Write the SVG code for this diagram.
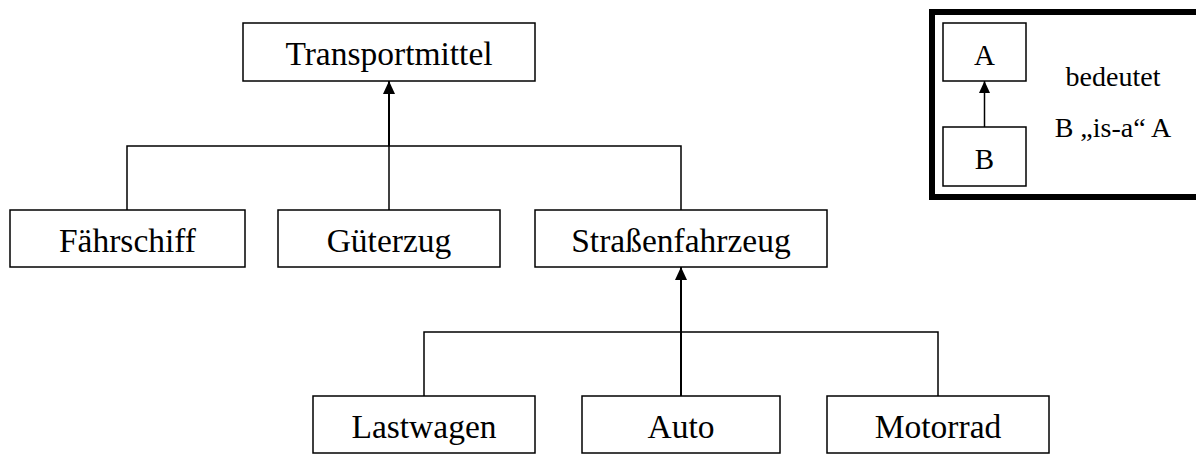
<svg xmlns="http://www.w3.org/2000/svg" width="1196" height="454" viewBox="0 0 1196 454">
<style>
.box{fill:#fff;stroke:#000;stroke-width:1.5}
.t{font-family:"Liberation Serif","Times New Roman",serif;font-size:33.5px;text-anchor:middle;fill:#000}
.lt{font-family:"Liberation Serif","Times New Roman",serif;font-size:28px;text-anchor:middle;fill:#000}
.ll{font-family:"Liberation Serif","Times New Roman",serif;font-size:29px;text-anchor:middle;fill:#000}
.c{fill:none;stroke:#000;stroke-width:1.5}
.a{fill:none;stroke:#000;stroke-width:2}
</style>
<defs>
<marker id="arr" markerUnits="userSpaceOnUse" markerWidth="14" markerHeight="14" refX="13" refY="6" orient="auto">
<path d="M0,0 L13,6 L0,12 Z" fill="#000"/>
</marker>
<marker id="arrs" markerUnits="userSpaceOnUse" markerWidth="13" markerHeight="12" refX="12" refY="5.5" orient="auto">
<path d="M0,0 L12,5.5 L0,11 Z" fill="#000"/>
</marker>
</defs>
<rect x="0" y="0" width="1196" height="454" fill="#fff"/>
<g id="connectors">
<path class="c" d="M127,210 V146 H681 V210"/>
<path class="c" d="M389,210 V146"/>
<path class="a" d="M389,146 V81" marker-end="url(#arr)"/>
<path class="c" d="M424,396 V332 H938 V396"/>
<path class="a" d="M681,396 V267" marker-end="url(#arr)"/>
</g>
<g id="transportmittel"><rect class="box" x="243" y="23" width="292" height="58"/><text class="t" x="389" y="65">Transportmittel</text></g>
<g id="faehrschiff"><rect class="box" x="10" y="210" width="235" height="57"/><text class="t" x="127.5" y="252">Fährschiff</text></g>
<g id="gueterzug"><rect class="box" x="278" y="210" width="222" height="57"/><text class="t" x="389" y="252">Güterzug</text></g>
<g id="strassenfahrzeug"><rect class="box" x="535" y="210" width="292" height="57"/><text class="t" x="681" y="252">Straßenfahrzeug</text></g>
<g id="lastwagen"><rect class="box" x="313" y="396" width="222" height="57"/><text class="t" x="424" y="438">Lastwagen</text></g>
<g id="auto"><rect class="box" x="582" y="396" width="198" height="57"/><text class="t" x="681" y="438">Auto</text></g>
<g id="motorrad"><rect class="box" x="827" y="396" width="222" height="57"/><text class="t" x="938" y="438">Motorrad</text></g>
<g id="legend">
<rect x="932" y="12" width="290" height="185" fill="#fff" stroke="#000" stroke-width="6"/>
<path class="c" d="M984.5,127 V81" marker-end="url(#arrs)"/>
<rect class="box" x="943" y="23" width="83" height="58"/>
<text class="ll" x="984.5" y="65">A</text>
<rect class="box" x="943" y="127" width="83" height="59"/>
<text class="ll" x="984.5" y="169">B</text>
<text class="lt" x="1113" y="86">bedeutet</text>
<text class="lt" x="1113" y="137">B „is-a“ A</text>
</g>
</svg>
